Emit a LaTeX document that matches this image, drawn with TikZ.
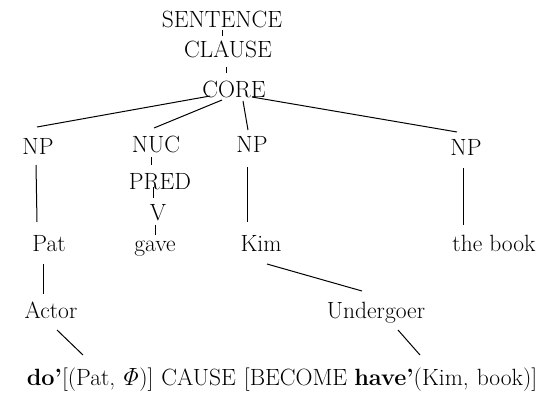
\documentclass[tikz,border=0pt]{standalone}
\usetikzlibrary{calc}
\begin{document}
\begin{tikzpicture}[x=1pt,y=1pt,
  lbl/.style={anchor=base,inner sep=0pt,font=\fontsize{23.5}{27}\selectfont},
  edge/.style={line width=1pt,black}]
\useasboundingbox (0,0) rectangle (543,-397);
% nodes (center x, baseline y)
\node[lbl] (sentence) at (222,-27) {SENTENCE};
\node[lbl] (clause) at (228,-57) {CLAUSE};
\node[lbl] (core) at (234,-97) {CORE};
\node[lbl] (np1) at (38,-154) {NP};
\node[lbl] (nuc) at (156,-152) {NUC};
\node[lbl] (np2) at (252,-152) {NP};
\node[lbl] (np4) at (466,-155) {NP};
\node[lbl] (pred) at (160,-189) {PRED};
\node[lbl] (v) at (158,-220) {V};
\node[lbl] (pat) at (49,-251) {Pat};
\node[lbl] (gave) at (155,-251) {gave};
\node[lbl] (kim) at (261,-251) {Kim};
\node[lbl] (book) at (494,-251) {the\hspace{7pt}book};
\node[lbl] (actor) at (51,-318) {Actor};
\node[lbl] (under) at (376,-318) {Undergoer};
\node[lbl] (formula) at (282,-385) {\textbf{do'}[(Pat,\hspace{5pt}$\mathit{\Phi}$)]\hspace{8pt}CAUSE\hspace{8pt}[BECOME\hspace{7pt}\textbf{have'}(Kim,\hspace{8pt}book)]};
% connectors
\draw[edge] ($(sentence.base)+(0,-3)$) -- ($(clause.base)+(-6,21)$);
\draw[edge] ($(clause.base)+(-2,-10)$) -- ($(core.base)+(-8,24)$);
\draw[edge] ($(core.base)+(-24,1)$) -- ($(np1.base)+(-1,27)$);
\draw[edge] ($(core.base)+(-12,-3)$) -- ($(nuc.base)+(-2,24)$);
\draw[edge] ($(core.base)+(9,-4)$) -- ($(np2.base)+(-4,22)$);
\draw[edge] ($(core.base)+(18,0)$) -- ($(np4.base)+(-9,23)$);
\draw[edge] ($(nuc.base)+(-5,-5)$) -- ($(pred.base)+(-9,24)$);
\draw[edge] ($(pred.base)+(-7,2)$) -- ($(v.base)+(-5,22)$);
\draw[edge] ($(v.base)+(-3,-5)$) -- ($(gave.base)+(0,16)$);
\draw[edge] ($(np1.base)+(-2,-11)$) -- ($(pat.base)+(-12,29)$);
\draw[edge] ($(np2.base)+(-5,-15)$) -- ($(kim.base)+(-14,29)$);
\draw[edge] ($(np4.base)+(-3,-13)$) -- ($(book.base)+(-31,26)$);
\draw[edge] ($(pat.base)+(-6,-13)$) -- ($(actor.base)+(-8,24)$);
\draw[edge] ($(kim.base)+(6,-13)$) -- ($(under.base)+(-14,27)$);
\draw[edge] ($(actor.base)+(6,-12)$) -- ($(formula.base)+(-199,30)$);
\draw[edge] ($(under.base)+(22,-12)$) -- ($(formula.base)+(138,30)$);
\end{tikzpicture}
\end{document}
